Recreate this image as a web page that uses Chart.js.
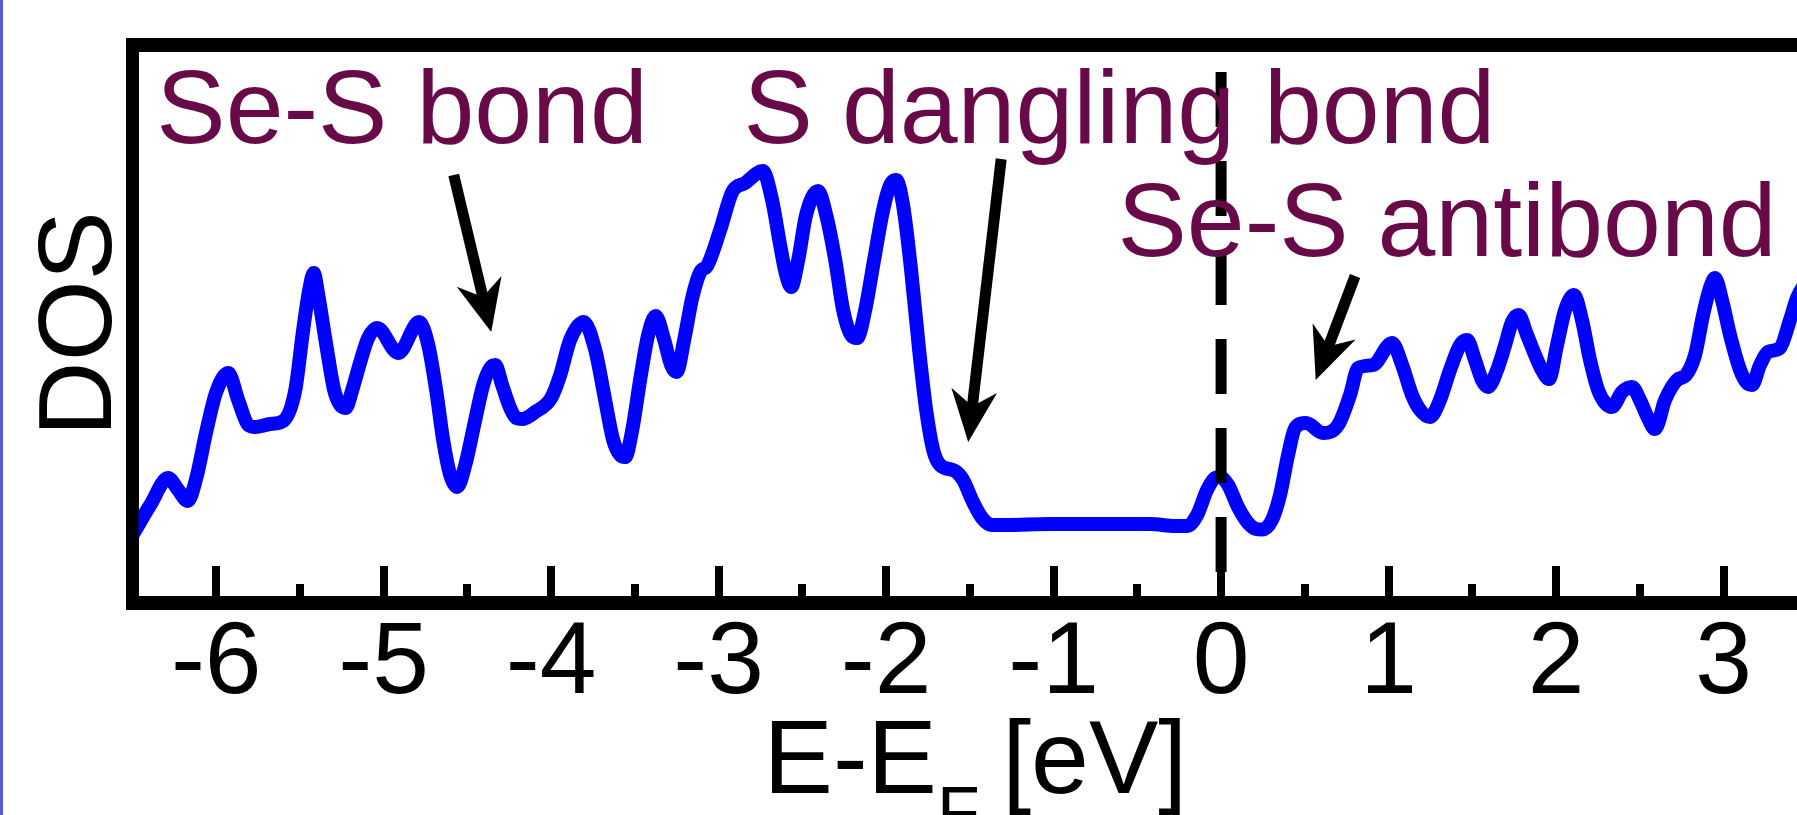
<!DOCTYPE html>
<html><head><meta charset="utf-8">
<script src="https://cdn.jsdelivr.net/npm/chart.js@4.4.1/dist/chart.umd.min.js"></script>
<style>
html,body{margin:0;padding:0;overflow:hidden;background:#fff;width:1797px;height:815px}
#wrap{position:absolute;left:0;top:0;width:1830px;height:815px}
#edge{position:absolute;left:0;top:0;width:3px;height:815px;background:#5a5ad6;z-index:2}
</style></head><body>
<div id="wrap"><canvas id="c" width="1830" height="815"></canvas></div>
<div id="edge"></div>
<script>
// ---- data (energy in eV, DOS in arbitrary units) ----
const energies = [-6.500,-6.394,-6.287,-6.227,-6.170,-6.119,-6.060,-6.000,-5.928,-5.869,-5.809,-5.767,-5.678,-5.600,-5.528,-5.481,-5.445,-5.418,-5.391,-5.343,-5.296,-5.260,-5.227,-5.188,-5.140,-5.093,-5.039,-4.913,-4.788,-4.734,-4.687,-4.645,-4.603,-4.561,-4.513,-4.460,-4.406,-4.364,-4.334,-4.293,-4.245,-4.209,-4.173,-4.096,-4.000,-3.946,-3.887,-3.806,-3.737,-3.678,-3.630,-3.588,-3.558,-3.516,-3.469,-3.421,-3.376,-3.325,-3.284,-3.251,-3.206,-3.158,-3.110,-3.069,-2.991,-2.919,-2.842,-2.737,-2.681,-2.633,-2.597,-2.567,-2.525,-2.478,-2.406,-2.358,-2.304,-2.257,-2.209,-2.173,-2.125,-2.072,-2.018,-1.976,-1.940,-1.899,-1.851,-1.803,-1.761,-1.719,-1.678,-1.588,-1.540,-1.487,-1.427,-1.367,-1.290,-1.021,-0.722,-0.424,-0.275,-0.203,-0.143,-0.084,-0.036,-0.006,0.042,0.101,0.161,0.209,0.245,0.304,0.352,0.400,0.442,0.507,0.609,0.699,0.770,0.818,0.907,1.021,1.081,1.140,1.188,1.248,1.307,1.367,1.427,1.469,1.516,1.558,1.594,1.648,1.696,1.737,1.776,1.827,1.875,1.922,1.958,2.006,2.054,2.107,2.155,2.203,2.251,2.293,2.334,2.394,2.454,2.501,2.549,2.591,2.651,2.722,2.776,2.830,2.878,2.919,2.949,2.991,3.039,3.099,3.140,3.170,3.218,3.266,3.337,3.397,3.439,3.499];
const dos = [68,98,125,113,102,125,171,211,230,203,178,176,179,182,213,273,313,330,308,258,213,198,195,213,241,265,275,250,281,258,213,163,128,116,138,178,218,235,238,218,195,185,184,191,205,228,263,281,253,203,163,148,146,173,223,268,287,263,238,231,263,305,331,337,373,411,420,432,403,358,328,316,343,388,412,388,343,293,268,265,293,343,393,418,423,398,333,253,193,153,138,132,123,103,85,78,78,79,79,79,77,77,88,113,125,126,118,96,80,74,73.5,83,108,148,175,180,170,178,208,235,238,260,238,208,193,186,203,233,258,263,243,223,216,233,258,281,288,268,248,231,224,258,293,308,283,243,213,200,196,211,216,203,185,174,203,223,228,248,288,315,325,303,268,233,220,218,238,251,255,283,305,323];

const majorTicks = [-6,-5,-4,-3,-2,-1,0,1,2,3];
const minorTicks = [-5.5,-4.5,-3.5,-2.5,-1.5,-0.5,0.5,1.5,2.5];
const xRange = [-6.5, 3.5];
const yRange = [0, 558.5];

const fermiE = 0;
const fermiTop = 531;

const noteTexts = ['Se-S bond', 'S dangling bond', 'Se-S antibond'];
const noteE = [-6.358, -2.851, -0.619];
const noteDOS = [460, 460, 347];
const arrowTailE = [-4.582, -1.313, 0.800];
const arrowTailDOS = [428, 444, 327];
const arrowTipE = [-4.358, -1.510, 0.565];
const arrowTipDOS = [271, 161, 223];

const xTitleMain = 'E-E';
const xTitleSub = 'F';
const xTitleUnit = '[eV]';
const yTitle = 'DOS';

// ---- styles ----
const FONT = '"Liberation Sans", Arial, Helvetica, sans-serif';
const NOTE_COLOR = '#690a48';
const FS = 104;

function drawArrow(ctx, x1, y1, x2, y2) {
  const ang = Math.atan2(y2 - y1, x2 - x1);
  const dx = Math.cos(ang), dy = Math.sin(ang);
  const px = -dy, py = dx;
  const headLen = 52, headHalf = 23, notch = 16;
  ctx.beginPath();
  ctx.moveTo(x1, y1);
  ctx.lineTo(x2 - dx * (headLen - notch - 2), y2 - dy * (headLen - notch - 2));
  ctx.lineWidth = 11;
  ctx.lineCap = 'butt';
  ctx.strokeStyle = '#000';
  ctx.stroke();
  ctx.beginPath();
  ctx.moveTo(x2, y2);
  ctx.lineTo(x2 - dx * headLen + px * headHalf, y2 - dy * headLen + py * headHalf);
  ctx.lineTo(x2 - dx * (headLen - notch), y2 - dy * (headLen - notch));
  ctx.lineTo(x2 - dx * headLen - px * headHalf, y2 - dy * headLen - py * headHalf);
  ctx.closePath();
  ctx.fillStyle = '#000';
  ctx.fill();
}

const annotationPlugin = {
  id: 'notes',
  afterDatasetsDraw(chart) {
    const {ctx, scales: {x, y}} = chart;
    ctx.save();
    ctx.font = FS + 'px ' + FONT;
    ctx.fillStyle = NOTE_COLOR;
    ctx.textBaseline = 'alphabetic';
    ctx.textAlign = 'left';
    noteTexts.forEach((t, i) => ctx.fillText(t, x.getPixelForValue(noteE[i]), y.getPixelForValue(noteDOS[i])));
    arrowTailE.forEach((e, i) => drawArrow(ctx,
      x.getPixelForValue(e), y.getPixelForValue(arrowTailDOS[i]),
      x.getPixelForValue(arrowTipE[i]), y.getPixelForValue(arrowTipDOS[i])));
    ctx.restore();
  },
  afterDraw(chart) {
    const {ctx, chartArea} = chart;
    ctx.save();
    ctx.fillStyle = '#000';
    ctx.textBaseline = 'alphabetic';
    ctx.textAlign = 'left';
    const big = FS + 'px ' + FONT, small = '70px ' + FONT;
    ctx.font = big; const w1 = ctx.measureText(xTitleMain).width; const w3 = ctx.measureText(xTitleUnit).width;
    ctx.font = small; const w2 = ctx.measureText(xTitleSub + ' ').width;
    const total = w1 + w2 + w3;
    const x0 = (chartArea.left + chartArea.right) / 2 - total / 2 + 4;
    const base = chartArea.bottom + 189.5;
    ctx.font = big; ctx.fillText(xTitleMain, x0, base);
    ctx.font = small; ctx.fillText(xTitleSub, x0 + w1, base + 43.5);
    ctx.font = big; ctx.fillText(xTitleUnit, x0 + w1 + w2 + 3, base);
    ctx.restore();
  }
};

const dosPoints = energies.map((e, i) => ({x: e, y: dos[i]}));

new Chart(document.getElementById('c'), {
  type: 'line',
  data: {
    datasets: [
      {
        data: [{x: fermiE, y: fermiTop}, {x: fermiE, y: yRange[0]}],
        borderColor: '#000', borderWidth: 11, borderDash: [55, 34], borderCapStyle: 'butt',
        pointRadius: 0, tension: 0, fill: false, xAxisID: 'x', yAxisID: 'y'
      },
      {
        data: dosPoints,
        borderColor: '#0000ff', borderWidth: 14, pointRadius: 0, fill: false,
        cubicInterpolationMode: 'monotone', borderJoinStyle: 'round',
        clip: {left: -6, top: 0, right: 0, bottom: 0},
        xAxisID: 'x', yAxisID: 'y'
      }
    ]
  },
  options: {
    responsive: false, animation: false, devicePixelRatio: 1, events: [],
    layout: {padding: 0},
    plugins: {legend: {display: false}, tooltip: {enabled: false}, title: {display: false}},
    scales: {
      x: {
        type: 'linear', axis: 'x', position: 'bottom', min: xRange[0], max: xRange[1],
        afterBuildTicks: s => { s.ticks = majorTicks.map(v => ({value: v})); },
        afterFit: s => { s.height = 212; },
        ticks: {autoSkip: false, maxRotation: 0, minRotation: 0, padding: 38, color: '#000',
          font: {family: FONT, size: 102}, callback: v => String(v)},
        grid: {display: true, drawOnChartArea: false, drawTicks: true, tickLength: -37,
          tickWidth: 8, lineWidth: 8, tickColor: '#000'},
        border: {display: true, width: 14, color: '#000'}
      },
      xMinor: {
        type: 'linear', axis: 'x', position: {y: 0}, min: xRange[0], max: xRange[1],
        afterBuildTicks: s => { s.ticks = minorTicks.map(v => ({value: v})); },
        ticks: {display: false},
        grid: {display: true, drawOnChartArea: false, drawTicks: true, tickLength: -19,
          tickWidth: 8, lineWidth: 8, tickColor: '#000'},
        border: {display: false}
      },
      x2: {
        type: 'linear', axis: 'x', position: 'top', min: xRange[0], max: xRange[1],
        afterFit: s => { s.height = 44.5; },
        ticks: {display: false}, grid: {display: false},
        border: {display: true, width: 14, color: '#000'}
      },
      y: {
        type: 'linear', axis: 'y', position: 'left', min: yRange[0], max: yRange[1],
        afterFit: s => { s.width = 132.5; },
        ticks: {display: false}, grid: {display: false},
        border: {display: true, width: 13, color: '#000'},
        title: {display: true, text: yTitle, color: '#000', font: {family: FONT, size: FS},
          padding: {top: 20, bottom: 0}}
      },
      y2: {
        type: 'linear', axis: 'y', position: 'right', min: yRange[0], max: yRange[1],
        afterFit: s => { s.width = 22.75; },
        ticks: {display: false}, grid: {display: false},
        border: {display: true, width: 14, color: '#000'}
      }
    }
  },
  plugins: [annotationPlugin]
});
</script></body></html>
